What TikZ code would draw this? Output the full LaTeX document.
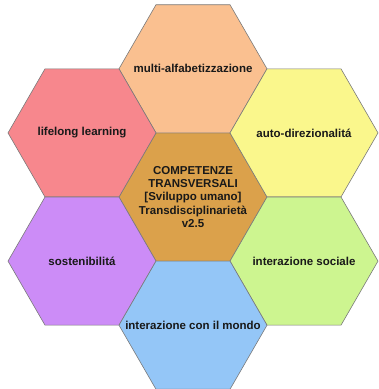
\documentclass[tikz,border=0pt]{standalone}
\usepackage{fontspec}
\setmainfont{Liberation Sans}
\usetikzlibrary{shapes.geometric}
\definecolor{Pesca}{HTML}{FAC090}
\definecolor{Rosa}{HTML}{F7878D}
\definecolor{Giallo}{HTML}{FAF78C}
\definecolor{Ocra}{HTML}{DBA14B}
\definecolor{Viola}{HTML}{CC8CF7}
\definecolor{Verde}{HTML}{CDF590}
\definecolor{Azzurro}{HTML}{94C6F7}
\definecolor{Bordo}{HTML}{7A7A7A}

\begin{document}
\begin{tikzpicture}[x=1pt,y=1pt,
    hexa/.style={regular polygon,regular polygon sides=6,minimum size=148pt,inner sep=0pt,draw=Bordo,line width=0.6pt},
    every label/.style={font=\fontsize{11.5}{13.3}\selectfont\bfseries,text=black!90,align=center}]
    \useasboundingbox (0,0) rectangle (379,-389);
    \node[hexa,fill=Ocra,label=center:{COMPETENZE\\TRANSVERSALI\\{[Sviluppo umano]}\\Transdisciplinarietà\\v2.5}] (centre) at (193,-197) {};
    \node[hexa,fill=Pesca,label=center:multi-alfabetizzazione] (multi) at ([yshift=128.2pt]centre) {};
    \node[hexa,fill=Rosa,label=center:lifelong learning] (lifelong) at ([xshift=-111pt,yshift=64.1pt]centre) {};
    \node[hexa,fill=Giallo,label=center:auto-direzionalitá] (auto) at ([xshift=111pt,yshift=64.1pt]centre) {};
    \node[hexa,fill=Viola,label=center:sostenibilitá] (soste) at ([xshift=-111pt,yshift=-64.1pt]centre) {};
    \node[hexa,fill=Verde,label=center:interazione sociale] (sociale) at ([xshift=111pt,yshift=-64.1pt]centre) {};
    \node[hexa,fill=Azzurro,label=center:interazione con il mondo] (mondo) at ([yshift=-128.2pt]centre) {};
\end{tikzpicture}
\end{document}
